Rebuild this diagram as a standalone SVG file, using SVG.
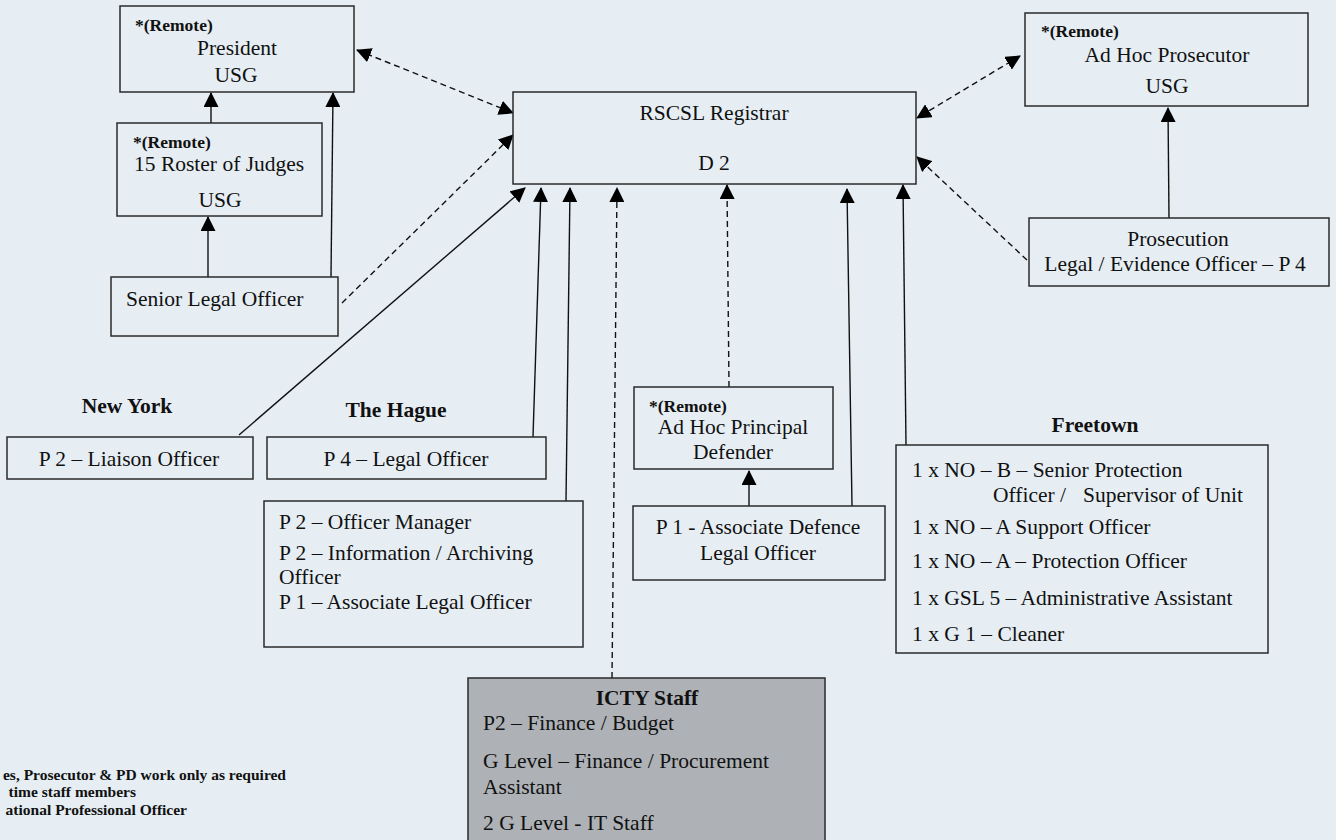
<svg xmlns="http://www.w3.org/2000/svg" width="1336" height="840" viewBox="0 0 1336 840">
<defs>
<style>
.bg{fill:#E6EEF4}
.box{fill:#E6EEF4;stroke:#2a2a2a;stroke-width:1.5}
.grey{fill:#AEB2B6;stroke:#2a2a2a;stroke-width:1.5}
text{font-family:"Liberation Serif","Times New Roman",serif;fill:#111;font-size:21.5px}
.b{font-weight:bold}
.r{font-weight:bold;font-size:17.5px}
.c{text-anchor:middle}
.fn{font-weight:bold;font-size:15.5px}
.ln{fill:none;stroke:#111;stroke-width:1.4}
.d{stroke-dasharray:6 4}
</style>
<marker id="ah" viewBox="0 0 15 15" refX="14" refY="7.5" markerWidth="15" markerHeight="15" markerUnits="userSpaceOnUse" orient="auto-start-reverse">
<path d="M0,0 L15,7.5 L0,15 z" fill="#000"/>
</marker>
</defs>
<rect class="bg" x="0" y="0" width="1336" height="840"/>

<g id="connectors">
<line class="ln" x1="211" y1="123" x2="211" y2="93" marker-end="url(#ah)"/>
<line class="ln" x1="208" y1="277" x2="208" y2="217" marker-end="url(#ah)"/>
<line class="ln" x1="331" y1="277" x2="333" y2="93" marker-end="url(#ah)"/>
<line class="ln d" x1="357" y1="50" x2="513" y2="113" marker-start="url(#ah)" marker-end="url(#ah)"/>
<line class="ln d" x1="342" y1="303" x2="513" y2="135" marker-end="url(#ah)"/>
<line class="ln" x1="239" y1="435" x2="525" y2="188" marker-end="url(#ah)"/>
<line class="ln" x1="533" y1="437" x2="541" y2="188" marker-end="url(#ah)"/>
<line class="ln" x1="566" y1="501" x2="570" y2="188" marker-end="url(#ah)"/>
<line class="ln d" x1="612" y1="678" x2="617" y2="188" marker-end="url(#ah)"/>
<line class="ln d" x1="729" y1="387" x2="727" y2="185" marker-end="url(#ah)"/>
<line class="ln" x1="749" y1="506" x2="749" y2="471" marker-end="url(#ah)"/>
<line class="ln" x1="852" y1="506" x2="847" y2="189" marker-end="url(#ah)"/>
<line class="ln" x1="906" y1="445" x2="903" y2="185" marker-end="url(#ah)"/>
<line class="ln d" x1="1020" y1="56" x2="917" y2="118" marker-start="url(#ah)" marker-end="url(#ah)"/>
<line class="ln" x1="1169" y1="218" x2="1168" y2="108" marker-end="url(#ah)"/>
<line class="ln d" x1="1027" y1="260" x2="917" y2="157" marker-end="url(#ah)"/>
</g>

<g id="president">
<rect class="box" x="120" y="6" width="234" height="86"/>
<text class="r" x="135" y="31">*(Remote)</text>
<text class="c" x="237" y="55">President</text>
<text class="c" x="236" y="82">USG</text>
</g>

<g id="roster">
<rect class="box" x="117" y="123" width="205" height="93"/>
<text class="r" x="133" y="148">*(Remote)</text>
<text x="134" y="171">15 Roster of Judges</text>
<text class="c" x="220" y="207">USG</text>
</g>

<g id="senior-legal-officer">
<rect class="box" x="111" y="277" width="227" height="59"/>
<text x="126" y="306">Senior Legal Officer</text>
</g>

<g id="registrar">
<rect class="box" x="513" y="92" width="403" height="92"/>
<text class="c" x="714" y="120">RSCSL Registrar</text>
<text class="c" x="714" y="170">D 2</text>
</g>

<g id="adhoc-prosecutor">
<rect class="box" x="1025" y="13" width="283" height="93"/>
<text class="r" x="1041" y="37">*(Remote)</text>
<text class="c" x="1167" y="62">Ad Hoc Prosecutor</text>
<text class="c" x="1167" y="93">USG</text>
</g>

<g id="prosecution">
<rect class="box" x="1029" y="218" width="300" height="68"/>
<text class="c" x="1178" y="246">Prosecution</text>
<text class="c" x="1175" y="271">Legal / Evidence Officer – P 4</text>
</g>

<g id="new-york">
<text class="b c" x="127" y="413">New York</text>
<rect class="box" x="7" y="437" width="246" height="42"/>
<text class="c" x="129" y="466">P 2 – Liaison Officer</text>
</g>

<g id="the-hague">
<text class="b c" x="396" y="417">The Hague</text>
<rect class="box" x="267" y="437" width="279" height="42"/>
<text class="c" x="406" y="466">P 4 – Legal Officer</text>
</g>

<g id="office-staff">
<rect class="box" x="264" y="501" width="319" height="146"/>
<text x="279" y="529">P 2 – Officer Manager</text>
<text x="279" y="560">P 2 – Information / Archiving</text>
<text x="279" y="584">Officer</text>
<text x="279" y="609">P 1 – Associate Legal Officer</text>
</g>

<g id="principal-defender">
<rect class="box" x="634" y="387" width="199" height="82"/>
<text class="r" x="649" y="412">*(Remote)</text>
<text class="c" x="733" y="434">Ad Hoc Principal</text>
<text class="c" x="733" y="459">Defender</text>
</g>

<g id="associate-defence">
<rect class="box" x="633" y="506" width="252" height="74"/>
<text class="c" x="758" y="534">P 1 - Associate Defence</text>
<text class="c" x="758" y="560">Legal Officer</text>
</g>

<g id="freetown">
<text class="b c" x="1095" y="432">Freetown</text>
<rect class="box" x="896" y="445" width="372" height="208"/>
<text x="912" y="477">1 x NO – B – Senior Protection</text>
<text x="993" y="502">Officer /</text>
<text x="1083" y="502">Supervisor of Unit</text>
<text x="912" y="534">1 x NO – A Support Officer</text>
<text x="912" y="568">1 x NO – A – Protection Officer</text>
<text x="912" y="605">1 x GSL 5 – Administrative Assistant</text>
<text x="912" y="641">1 x G 1 – Cleaner</text>
</g>

<g id="icty-staff">
<rect class="grey" x="468" y="678" width="357" height="180"/>
<text class="b c" x="647" y="705">ICTY Staff</text>
<text x="483" y="730">P2 – Finance / Budget</text>
<text x="483" y="768">G Level – Finance / Procurement</text>
<text x="483" y="794">Assistant</text>
<text x="483" y="830">2 G Level - IT Staff</text>
</g>

<g id="footnotes">
<text class="fn" x="286" y="780" text-anchor="end">es, Prosecutor &amp; PD work only as required</text>
<text class="fn" x="136" y="797" text-anchor="end">time staff members</text>
<text class="fn" x="187" y="815" text-anchor="end">ational Professional Officer</text>
</g>
</svg>
